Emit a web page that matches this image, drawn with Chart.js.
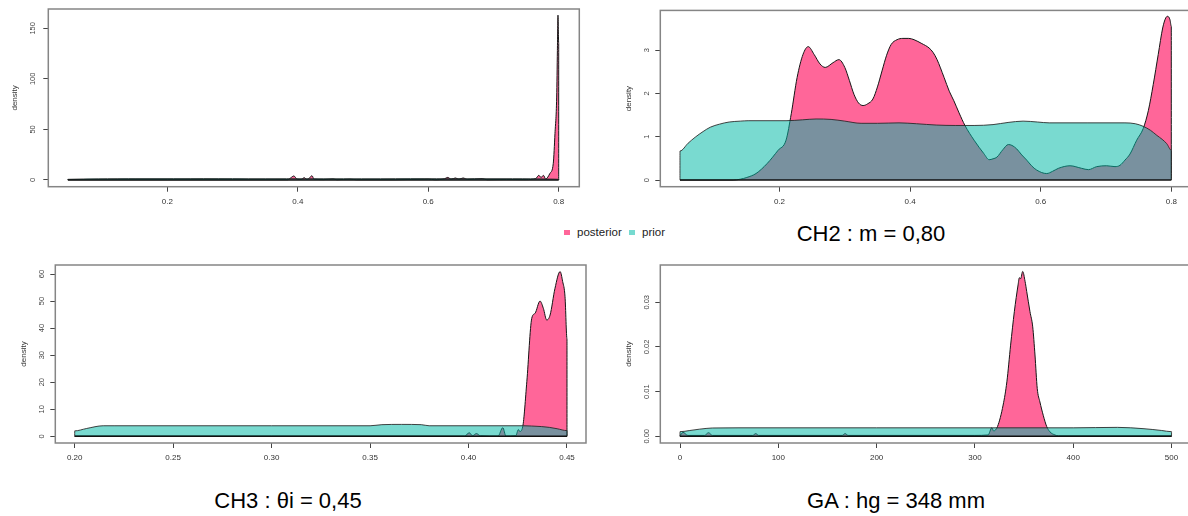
<!DOCTYPE html>
<html><head><meta charset="utf-8">
<script src="https://cdn.jsdelivr.net/npm/chart.js@4"></script>
<style>
html,body{margin:0;padding:0;background:#fff;width:1188px;height:516px;overflow:hidden;}
#wrap{position:relative;width:1188px;height:516px;overflow:hidden;font-family:"Liberation Sans",Arial,sans-serif;}
canvas{position:absolute;}
.title{position:absolute;font-size:22px;line-height:22px;color:#000;white-space:nowrap;transform:translateX(-50%);}
.leg{position:absolute;font-size:11.5px;line-height:12px;color:#222;white-space:nowrap;}
.sw{position:absolute;width:6px;height:5px;}
</style></head>
<body><div id="wrap">
<canvas id="c1" width="600" height="215" style="left:0;top:0"></canvas>
<canvas id="c2" width="600" height="215" style="left:600px;top:0"></canvas>
<canvas id="c3" width="600" height="215" style="left:0;top:255px"></canvas>
<canvas id="c4" width="600" height="215" style="left:600px;top:255px"></canvas>
<div class="sw" style="left:564px;top:230px;background:rgb(255,102,153)"></div>
<div class="leg" style="left:577px;top:226px">posterior</div>
<div class="sw" style="left:629px;top:230px;background:rgb(118,218,208)"></div>
<div class="leg" style="left:642px;top:226px">prior</div>
<div class="title" style="left:871px;top:223px">CH2 : m = 0,80</div>
<div class="title" style="left:288px;top:490px">CH3 : θi = 0,45</div>
<div class="title" style="left:896px;top:490px">GA : hg = 348 mm</div>
</div>
<script>
// ---------- data ----------
const xTicksM = [0.2, 0.4, 0.6, 0.8];
const xLabelsM = ['0.2', '0.4', '0.6', '0.8'];
const yTicksCH1 = [0, 50, 100, 150];
const yLabelsCH1 = ['0', '50', '100', '150'];
const yTicksCH2 = [0, 1, 2, 3];
const yLabelsCH2 = ['0', '1', '2', '3'];
const xTicksCH3 = [0.20, 0.25, 0.30, 0.35, 0.40, 0.45];
const xLabelsCH3 = ['0.20', '0.25', '0.30', '0.35', '0.40', '0.45'];
const yTicksCH3 = [0, 10, 20, 30, 40, 50, 60];
const yLabelsCH3 = ['0', '10', '20', '30', '40', '50', '60'];
const xTicksGA = [0, 100, 200, 300, 400, 500];
const xLabelsGA = ['0', '100', '200', '300', '400', '500'];
const yTicksGA = [0, 0.01, 0.02, 0.03];
const yLabelsGA = ['0.00', '0.01', '0.02', '0.03'];

const priorM = [[0.0476,0],[0.0476,0.67],[0.06,0.85],[0.071,0.99],[0.083,1.12],[0.094,1.22],[0.108,1.29],[0.123,1.34],[0.14,1.36],[0.152,1.37],[0.21,1.37],[0.235,1.39],[0.256,1.41],[0.279,1.40],[0.30,1.36],[0.325,1.31],[0.35,1.31],[0.383,1.32],[0.41,1.30],[0.44,1.27],[0.47,1.26],[0.498,1.26],[0.527,1.28],[0.55,1.33],[0.573,1.36],[0.595,1.34],[0.613,1.32],[0.671,1.32],[0.729,1.32],[0.745,1.30],[0.757,1.24],[0.768,1.15],[0.778,1.03],[0.786,0.94],[0.793,0.84],[0.8,0.69],[0.8,0]];

const posteriorCH1 = [[0.0476,0],[0.0476,0.3],[0.1,0.3],[0.2,0.3],[0.3,0.3],[0.385,0.3],[0.389,2],[0.394,4],[0.399,0.8],[0.405,0.5],[0.41,2.3],[0.414,0.5],[0.418,2],[0.4217,4.3],[0.425,0.8],[0.44,0.4],[0.454,1.0],[0.46,0.3],[0.48,0.8],[0.49,0.3],[0.55,0.3],[0.6,0.8],[0.61,0.3],[0.625,1.2],[0.63,2.6],[0.635,0.8],[0.6417,2],[0.647,0.8],[0.6535,2],[0.66,0.5],[0.6828,1.3],[0.69,0.3],[0.72,0.5],[0.75,0.4],[0.765,1.5],[0.7695,4.6],[0.773,2.5],[0.7766,4.6],[0.78,1],[0.7866,6.6],[0.7917,16.5],[0.7943,46],[0.7969,82],[0.798,128],[0.7989,163],[0.8,135],[0.8,0]];

const posteriorCH2 = [[0.0476,0],[0.129,0],[0.14,0.02],[0.15,0.06],[0.164,0.15],[0.181,0.38],[0.198,0.69],[0.21,0.92],[0.218,1.53],[0.227,2.37],[0.236,2.90],[0.244,3.08],[0.253,2.90],[0.262,2.68],[0.27,2.60],[0.282,2.71],[0.291,2.78],[0.30,2.60],[0.307,2.30],[0.314,1.98],[0.321,1.78],[0.328,1.72],[0.335,1.76],[0.343,1.87],[0.35,2.15],[0.357,2.52],[0.364,2.88],[0.371,3.13],[0.38,3.24],[0.389,3.27],[0.398,3.27],[0.406,3.24],[0.418,3.15],[0.429,3.05],[0.435,2.95],[0.441,2.79],[0.452,2.37],[0.46,2.05],[0.467,1.83],[0.475,1.55],[0.484,1.26],[0.498,0.92],[0.513,0.61],[0.521,0.47],[0.527,0.49],[0.533,0.53],[0.542,0.70],[0.5504,0.82],[0.556,0.80],[0.5632,0.72],[0.571,0.58],[0.5786,0.46],[0.586,0.33],[0.5939,0.23],[0.6092,0.15],[0.618,0.20],[0.627,0.27],[0.6449,0.33],[0.6628,0.27],[0.673,0.24],[0.6858,0.31],[0.7011,0.33],[0.7138,0.31],[0.7214,0.34],[0.729,0.46],[0.7367,0.60],[0.747,0.92],[0.757,1.19],[0.7648,1.60],[0.7724,2.21],[0.78,2.90],[0.7868,3.51],[0.7914,3.74],[0.7944,3.78],[0.798,3.70],[0.8,3.55],[0.8,0]];

const priorCH3 = [[0.2,0],[0.2,2.0],[0.2061,2.9],[0.2145,3.9],[0.22,3.9],[0.3,3.9],[0.35,3.9],[0.356,4.3],[0.366,4.4],[0.376,4.3],[0.38,3.9],[0.428,3.9],[0.432,3.8],[0.437,3.6],[0.441,3.3],[0.445,2.8],[0.45,2.1],[0.45,0]];

const posteriorCH3 = [[0.2,0],[0.2,0.1],[0.3,0.1],[0.398,0.1],[0.4004,1.3],[0.402,0.2],[0.404,1.0],[0.406,0.2],[0.415,0.1],[0.4174,3.2],[0.419,0.1],[0.424,0.2],[0.4253,2.5],[0.426,1.8],[0.4275,3.5],[0.4296,20.2],[0.4321,43.6],[0.4338,45.5],[0.4363,50.0],[0.438,47.3],[0.4397,43.0],[0.4414,44.8],[0.4439,54.7],[0.4465,60.9],[0.4478,57.2],[0.449,51.6],[0.45,36],[0.45,0]];

const priorGA = [[0,0],[0,0.00103],[10,0.0013],[20,0.0016],[33,0.00186],[60,0.0019],[200,0.0019],[400,0.0019],[445,0.0020],[472,0.0017],[490,0.0013],[500,0.00103],[500,0]];

const posteriorGA = [[0,0],[0,0.0002],[3,0.0009],[8,0.0002],[25,0.0002],[29,0.0008],[33,0.0002],[74,0.0002],[77,0.0006],[80,0.0002],[165,0.0002],[168,0.0006],[171,0.0002],[300,0.0002],[313.4,0.0003],[317.2,0.0019],[319,0.0012],[323,0.0022],[328.7,0.0070],[332.5,0.0122],[336.3,0.0204],[340.1,0.0279],[343.9,0.0339],[345.2,0.0355],[346.5,0.0353],[348.6,0.0369],[351,0.0347],[352.7,0.0324],[356,0.0279],[358.8,0.0245],[361.1,0.0182],[363.4,0.0107],[366.1,0.0077],[369.5,0.0047],[373,0.0022],[376.3,0.0010],[381.4,0.0003],[385,0.0001],[500,0.0001],[500,0]];

// ---------- drawing ----------
const FONT = '"Liberation Sans", Arial, sans-serif';
Chart.defaults.font.family = FONT;
const PINK = 'rgb(255,102,153)';
const TEAL = 'rgba(0,185,166,0.525)';

const framePlugin = {
  id: 'frame',
  afterDraw(chart) {
    const {ctx, chartArea: a} = chart;
    ctx.save();
    ctx.strokeStyle = '#858585';
    ctx.lineWidth = 1.5;
    ctx.strokeRect(a.left, a.top, a.right - a.left, a.bottom - a.top);
    ctx.restore();
  }
};

const mctx = document.createElement('canvas').getContext('2d');
function widest(labels, size) {
  mctx.font = size + 'px ' + FONT;
  return Math.max(...labels.map(l => mctx.measureText(l).width));
}

function pts(arr) { return arr.map(([x, y]) => ({x, y})); }

function panel(id, c) {
  const xs = c.post.concat(c.prior).map(p => p[0]);
  const base = [{x: Math.min(...xs), y: 0}, {x: Math.max(...xs), y: 0}];
  const yFont = 7.5, tl = 5;
  const yPad = c.L - tl - c.yLabelCx - widest(c.yLabels, yFont) / 2;
  new Chart(document.getElementById(id), {
    type: 'line',
    data: {
      datasets: [
        {label: 'base', data: base, borderColor: '#111', borderWidth: 1.5, pointRadius: 0, fill: false},
        {label: 'prior', data: pts(c.prior), borderColor: 'rgba(35,35,35,0.85)', borderWidth: 1, backgroundColor: TEAL, pointRadius: 0, fill: 'origin', cubicInterpolationMode: 'monotone'},
        {label: 'posterior', data: pts(c.post), borderColor: '#151515', borderWidth: 1, backgroundColor: PINK, pointRadius: 0, fill: 'origin', cubicInterpolationMode: 'monotone'}
      ]
    },
    options: {
      responsive: false, animation: false, devicePixelRatio: 1,
      layout: {padding: {left: 0, top: c.T, right: 600 - c.R, bottom: 0}},
      plugins: {legend: {display: false}, tooltip: {enabled: false}},
      scales: {
        x: {
          type: 'linear', min: c.xMin, max: c.xMax,
          afterBuildTicks: s => { s.ticks = c.xTicks.map(v => ({value: v})); },
          afterFit: s => { s.height = 215 - c.B; },
          ticks: {autoSkip: false, maxRotation: 0, minRotation: 0, padding: c.xPad, color: '#333', font: {size: 8}, callback: (v, i) => c.xLabels[i]},
          grid: {drawOnChartArea: false, drawTicks: true, tickLength: tl, tickColor: '#444', lineWidth: 1},
          border: {display: false}
        },
        y: {
          type: 'linear', min: c.yMin, max: c.yMax,
          afterBuildTicks: s => { s.ticks = c.yTicks.map(v => ({value: v})); },
          afterFit: s => { s.width = c.L; },
          ticks: {autoSkip: false, minRotation: 90, maxRotation: 90, crossAlign: 'center', padding: yPad, color: '#444', font: {size: yFont}, callback: (v, i) => c.yLabels[i]},
          grid: {drawOnChartArea: false, drawTicks: true, tickLength: tl, tickColor: '#444', lineWidth: 1},
          border: {display: false},
          title: {display: true, text: 'density', color: '#333', font: {size: 8}, padding: {top: c.titleCx - 4.8, bottom: 0}}
        }
      }
    },
    plugins: [framePlugin]
  });
}

panel('c1', {post: posteriorCH1, prior: priorM, xMin: 0.01758, xMax: 0.83158, yMin: -6.625, yMax: 169.08,
  xTicks: xTicksM, xLabels: xLabelsM, yTicks: yTicksCH1, yLabels: yLabelsCH1,
  L: 48.3, T: 9, R: 579.3, B: 186.7, xPad: 5.2, yLabelCx: 33.3, titleCx: 15});
panel('c2', {post: posteriorCH2, prior: priorM, xMin: 0.01746, xMax: 0.83017, yMin: -0.1534, yMax: 3.916,
  xTicks: xTicksM, xLabels: xLabelsM, yTicks: yTicksCH2, yLabels: yLabelsCH2,
  L: 60.3, T: 9, R: 591, B: 186.7, xPad: 5.2, yLabelCx: 47.3, titleCx: 28.3});
panel('c3', {post: posteriorCH3, prior: priorCH3, xMin: 0.19015, xMax: 0.45965, yMin: -2.477, yMax: 63.33,
  xTicks: xTicksCH3, xLabels: xLabelsCH3, yTicks: yTicksCH3, yLabels: yLabelsCH3,
  L: 55.3, T: 10, R: 586, B: 188, xPad: 4.5, yLabelCx: 41.7, titleCx: 23.3});
panel('c4', {post: posteriorGA, prior: priorGA, xMin: -20.04, xMax: 519.8, yMin: -0.0015, yMax: 0.03835,
  xTicks: xTicksGA, xLabels: xLabelsGA, yTicks: yTicksGA, yLabels: yLabelsGA,
  L: 60.3, T: 10, R: 591, B: 188, xPad: 4.5, yLabelCx: 47.3, titleCx: 28.3});
</script>
</body></html>
